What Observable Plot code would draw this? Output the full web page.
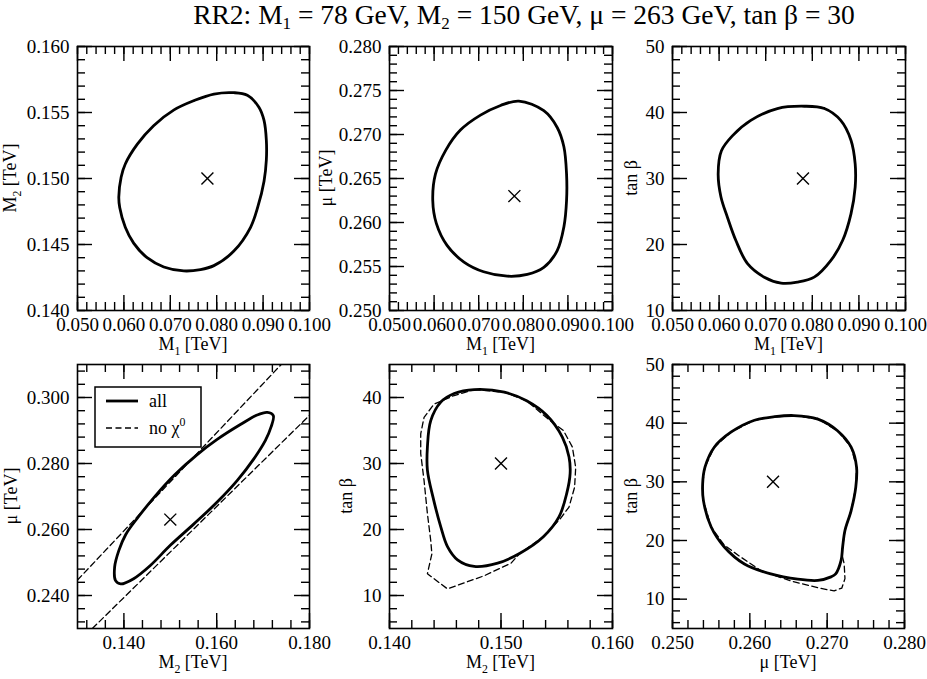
<!DOCTYPE html>
<html><head><meta charset="utf-8">
<script src="https://cdn.jsdelivr.net/npm/d3@7"></script>
<script src="https://cdn.jsdelivr.net/npm/@observablehq/plot@0.6"></script>
<style>
body{margin:0;background:#fff;}
#chart{position:relative;width:927px;height:679px;overflow:hidden;font-family:"Liberation Serif","Times New Roman",serif;background:#fff;}
#chart svg{position:absolute;}
#chart svg text{font-family:"Liberation Serif",serif !important;}
#title{position:absolute;left:124px;width:800px;top:0px;text-align:center;font-size:27.5px;line-height:30px;color:#000;white-space:nowrap;}
#title sub{font-size:17px;vertical-align:-5px;line-height:0;}
</style></head><body>
<div id="chart"><div id="title">RR2: M<sub>1</sub> = 78 GeV, M<sub>2</sub> = 150 GeV, μ = 263 GeV, tan β = 30</div></div>
<script>
// ---- best-fit point ----
const bestM1 = [0.078];
const bestM2 = [0.150];
const bestMu = [0.263];
const bestTb = [30];

// ---- panel 1: M1 vs M2 ----
const p1M1 = [0.0837,0.0866,0.0891,0.0902,0.0907,0.0907,0.0902,0.0889,0.0873,0.0837,0.0794,0.0765,0.0729,0.0686,0.0650,0.0621,0.0603,0.0591,0.0589,0.0594,0.0603,0.0629,0.0664,0.0708,0.0751,0.0794];
const p1M2 = [0.1565,0.1563,0.1554,0.1544,0.1529,0.1514,0.1498,0.1479,0.1463,0.1445,0.1434,0.1431,0.1430,0.1433,0.1440,0.1451,0.1463,0.1478,0.1486,0.1501,0.1511,0.1526,0.1540,0.1552,0.1559,0.1564];

// ---- panel 2: M1 vs mu ----
const p2M1 = [0.0790,0.0846,0.0876,0.0891,0.0897,0.0897,0.0891,0.0876,0.0846,0.0809,0.0764,0.0711,0.0667,0.0629,0.0605,0.0597,0.0603,0.0626,0.0659,0.0704,0.0749];
const p2Mu = [0.2738,0.2727,0.2708,0.2686,0.2655,0.2625,0.2595,0.2568,0.2549,0.2541,0.2539,0.2544,0.2555,0.2574,0.2599,0.2625,0.2655,0.2682,0.2705,0.2722,0.2733];

// ---- panel 3: M1 vs tan beta ----
const p3M1 = [0.0783,0.0826,0.0861,0.0883,0.0892,0.0892,0.0883,0.0865,0.0840,0.0804,0.0768,0.0733,0.0697,0.0661,0.0636,0.0618,0.0604,0.0598,0.0605,0.0629,0.0668,0.0725];
const p3Tb = [40.95,40.6,38.8,35.8,32.2,28.7,24.65,20.6,17.6,15.05,14.3,14.15,15.05,17.1,20.6,24.1,27.2,30.7,34.2,36.5,38.8,40.6];

// ---- panel 4: M2 vs mu ----
const p4M2 = [0.1709,0.1722,0.1717,0.1705,0.1680,0.1644,0.1601,0.1551,0.1500,0.1457,0.1421,0.1393,0.1382,0.1380,0.1389,0.1404,0.1431,0.1466,0.1509,0.1558,0.1601,0.1651,0.1687];
const p4Mu = [0.2955,0.2945,0.2910,0.2870,0.2814,0.2748,0.2683,0.2617,0.2552,0.2491,0.2451,0.2435,0.2445,0.2486,0.2536,0.2585,0.2638,0.2699,0.2765,0.2827,0.2873,0.2918,0.2947];
const p4UpperM2 = [0.130, 0.1739];
const p4UpperMu = [0.2447, 0.310];
const p4LowerM2 = [0.1332, 0.180];
const p4LowerMu = [0.230, 0.2946];

// ---- panel 5: M2 vs tan beta ----
const p5M2 = [0.1476,0.1503,0.1523,0.1541,0.1555,0.1561,0.1562,0.1559,0.1552,0.1538,0.1517,0.1497,0.1476,0.1461,0.1452,0.1446,0.1439,0.1434,0.1434,0.1437,0.1446,0.1458];
const p5Tb = [41.2,40.8,39.5,37.3,34.0,31.0,28.5,25.5,21.9,18.9,16.4,14.9,14.4,15.4,17.4,20.4,24.9,29.0,32.5,36.5,39.3,40.6];
const p5DashM2 = [0.1476,0.1503,0.1523,0.1544,0.1556,0.1564,0.1567,0.1566,0.1561,0.1553,0.1538,0.1517,0.1509,0.1485,0.1452,0.1434,0.1438,0.1437,0.1434,0.1431,0.1428,0.1428,0.1431,0.1440,0.1458];
const p5DashTb = [41.2,40.8,39.5,36.5,35.0,32.5,29.4,26.4,23.4,21.6,18.9,16.4,14.9,13.0,11.0,13.3,16.3,18.3,22.4,27.4,31.5,34.5,37.0,39.0,40.3];

// ---- panel 6: mu vs tan beta ----
const p6Mu = [0.2657,0.2688,0.2713,0.2731,0.2738,0.2737,0.2731,0.2723,0.2720,0.2718,0.2711,0.2705,0.2688,0.2662,0.2627,0.2593,0.2567,0.2550,0.2540,0.2539,0.2542,0.2554,0.2576,0.2606,0.2632];
const p6Tb = [41.3,40.7,38.75,35.9,32.5,29.1,25.1,21.7,18.9,16.6,14.3,13.8,13.2,13.4,14.3,16.0,18.9,22.3,26.8,29.7,32.5,35.9,38.5,40.5,41.1];
const p6DashMu = [0.2657,0.2688,0.2713,0.2731,0.2738,0.2737,0.2731,0.2723,0.2720,0.2719,0.2722,0.2723,0.2719,0.2709,0.2688,0.2653,0.2614,0.2588,0.2567,0.2550,0.2540,0.2539,0.2542,0.2554,0.2576,0.2606,0.2632];
const p6DashTb = [41.3,40.7,38.75,35.9,32.5,29.1,25.1,21.7,18.9,17.7,16.0,13.5,11.9,11.4,11.95,13.1,14.9,17.2,19.2,22.3,26.8,29.7,32.5,35.9,38.5,40.5,41.1];

// ---- tick labels ----
const ticksM1 = [0.050,0.060,0.070,0.080,0.090,0.100];
const ticksM2a = [0.140,0.145,0.150,0.155,0.160];
const ticksMuA = [0.250,0.255,0.260,0.265,0.270,0.275,0.280];
const ticksTbA = [10,20,30,40,50];
const ticksM2b = [0.140,0.160,0.180];
const ticksMuB = [0.240,0.260,0.280,0.300];
const ticksM2c = [0.140,0.150,0.160];
const ticksTbB = [10,20,30,40];
const ticksMuC = [0.250,0.260,0.270,0.280];

const f3 = d3.format(".3f"), fd = d3.format("d");
const minor = (lo, hi, step) => d3.range(Math.round((hi - lo) / step) + 1).map(i => +(lo + i * step).toFixed(6));

const FONT = "Liberation Serif";
const TICKFS = 19, LABFS = 18;
const chart = document.getElementById("chart");
const mL = 75, mR = 12, mT = 12, mB = 55;

function rich(sel, parts, fs) {
  let shift = 0;
  for (const p of parts) {
    const t = sel.append("tspan").text(p.t);
    let target = 0;
    if (p.sub) { t.attr("font-size", fs * 0.66); target = fs * 0.27; }
    if (p.sup) { t.attr("font-size", fs * 0.66); target = -fs * 0.45; }
    if (target !== shift) { t.attr("dy", target - shift); shift = target; }
  }
}

function panel(cfg) {
  const fw = cfg.w, fh = cfg.h;
  const tick = (vals, len, side) => {
    const o = {stroke: "black", strokeWidth: 1.4};
    if (side === "b") return Plot.ruleX(vals, {...o, insetTop: fh - len});
    if (side === "t") return Plot.ruleX(vals, {...o, insetBottom: fh - len});
    if (side === "l") return Plot.ruleY(vals, {...o, insetRight: fw - len});
    return Plot.ruleY(vals, {...o, insetLeft: fw - len});
  };
  const svg = Plot.plot({
    width: fw + mL + mR, height: fh + mT + mB,
    marginLeft: mL, marginRight: mR, marginTop: mT, marginBottom: mB,
    x: {domain: cfg.xd}, y: {domain: cfg.yd},
    style: `font-family: '${FONT}', serif; font-size: ${TICKFS}px; background: transparent; color: black; overflow: visible;`,
    marks: [
      ...cfg.marks,
      tick(cfg.xMinor, 8, "b"), tick(cfg.xMinor, 8, "t"),
      tick(cfg.xMajor, 15, "b"), tick(cfg.xMajor, 15, "t"),
      tick(cfg.yMinor, 8, "l"), tick(cfg.yMinor, 8, "r"),
      tick(cfg.yMajor, 15, "l"), tick(cfg.yMajor, 15, "r"),
      Plot.frame({stroke: "black", strokeWidth: 1.6}),
      Plot.axisX({ticks: cfg.xMajor, tickSize: 0, tickPadding: 7, tickFormat: cfg.xf, label: null, fontSize: TICKFS, fontFamily: FONT, fontVariant: "normal", fill: "black"}),
      Plot.axisY({ticks: cfg.yMajor, tickSize: 0, tickPadding: 8, tickFormat: cfg.yf, label: null, fontSize: TICKFS, fontFamily: FONT, fontVariant: "normal", fill: "black"})
    ]
  });
  svg.style.left = (cfg.left - mL) + "px";
  svg.style.top = (cfg.top - mT) + "px";
  const s = d3.select(svg);
  s.attr("font-family", FONT).attr("font-size", TICKFS);
  s.selectAll("g").filter(function () { return this.hasAttribute("font-family"); }).attr("font-family", FONT);
  s.selectAll("text").each(function () {
    this.style.fontFamily = "'Liberation Serif', serif";
    this.style.fontSize = TICKFS + "px";
    this.style.fontVariant = "normal";
  });
  const xl = s.append("text").attr("x", mL + fw / 2).attr("y", mT + fh + 40)
    .attr("text-anchor", "middle").attr("font-size", LABFS).attr("font-family", FONT).attr("fill", "black");
  rich(xl, cfg.xLabel, LABFS);
  const yl = s.append("text").attr("transform", `translate(${mL - cfg.yOff},${mT + fh / 2}) rotate(-90)`)
    .attr("text-anchor", "middle").attr("font-size", LABFS).attr("font-family", FONT).attr("fill", "black");
  rich(yl, cfg.yLabel, LABFS);
  if (cfg.after) cfg.after(s);
  chart.appendChild(svg);
}

const solid = {stroke: "black", strokeWidth: 2.8, strokeLinejoin: "round", curve: "catmull-rom-closed"};
const dashed = {stroke: "black", strokeWidth: 1.3, strokeDasharray: "6,3.5", curve: "linear-closed"};
const cross = (x, y) => Plot.dot(x, {x: x, y: y, symbol: "times", r: 5.5, stroke: "black", strokeWidth: 1.4});

const lblM1 = [{t: "M"}, {t: "1", sub: true}, {t: " [TeV]"}];
const lblM2 = [{t: "M"}, {t: "2", sub: true}, {t: " [TeV]"}];
const lblMu = [{t: "μ [TeV]"}];
const lblTb = [{t: "tan β"}];

panel({left: 77, top: 46, w: 232, h: 264, xd: [0.05, 0.10], yd: [0.140, 0.160],
  xMajor: ticksM1, xMinor: minor(0.05, 0.10, 0.002), yMajor: ticksM2a, yMinor: minor(0.140, 0.160, 0.001),
  xf: f3, yf: f3, xLabel: lblM1, yLabel: lblM2, yOff: 61,
  marks: [Plot.line(p1M1, {x: p1M1, y: p1M2, ...solid}), cross(bestM1, bestM2)]});

panel({left: 389, top: 46, w: 223, h: 264, xd: [0.05, 0.10], yd: [0.250, 0.280],
  xMajor: ticksM1, xMinor: minor(0.05, 0.10, 0.002), yMajor: ticksMuA, yMinor: minor(0.250, 0.280, 0.001),
  xf: f3, yf: f3, xLabel: lblM1, yLabel: lblMu, yOff: 57,
  marks: [Plot.line(p2M1, {x: p2M1, y: p2Mu, ...solid}), cross(bestM1, bestMu)]});

panel({left: 672, top: 46, w: 233, h: 264, xd: [0.05, 0.10], yd: [10, 50],
  xMajor: ticksM1, xMinor: minor(0.05, 0.10, 0.002), yMajor: ticksTbA, yMinor: minor(10, 50, 2),
  xf: f3, yf: fd, xLabel: lblM1, yLabel: lblTb, yOff: 35,
  marks: [Plot.line(p3M1, {x: p3M1, y: p3Tb, ...solid}), cross(bestM1, bestTb)]});

panel({left: 77, top: 364, w: 232, h: 264, xd: [0.130, 0.180], yd: [0.230, 0.310],
  xMajor: ticksM2b, xMinor: minor(0.132, 0.180, 0.004), yMajor: ticksMuB, yMinor: minor(0.232, 0.308, 0.004),
  xf: f3, yf: f3, xLabel: lblM2, yLabel: lblMu, yOff: 60,
  marks: [
    Plot.line(p4UpperM2, {x: p4UpperM2, y: p4UpperMu, stroke: "black", strokeWidth: 1.3, strokeDasharray: "6,3.5", clip: true}),
    Plot.line(p4LowerM2, {x: p4LowerM2, y: p4LowerMu, stroke: "black", strokeWidth: 1.3, strokeDasharray: "6,3.5", clip: true}),
    Plot.line(p4M2, {x: p4M2, y: p4Mu, ...solid}), cross(bestM2, bestMu)],
  after: (s) => {
    const g = s.append("g").attr("transform", `translate(${mL},${mT})`).attr("text-anchor", "start");
    g.append("rect").attr("x", 18).attr("y", 23).attr("width", 106).attr("height", 60)
      .attr("fill", "white").attr("stroke", "black").attr("stroke-width", 1.5);
    g.append("line").attr("x1", 29).attr("x2", 61).attr("y1", 37).attr("y2", 37).attr("stroke", "black").attr("stroke-width", 2.8);
    g.append("line").attr("x1", 29).attr("x2", 61).attr("y1", 64).attr("y2", 64).attr("stroke", "black").attr("stroke-width", 1.3).attr("stroke-dasharray", "6,3.5");
    g.append("text").attr("x", 72).attr("y", 43).attr("text-anchor", "start").attr("font-size", LABFS).attr("font-family", FONT).attr("fill", "black").text("all");
    const t2 = g.append("text").attr("x", 72).attr("y", 70).attr("text-anchor", "start").attr("font-size", LABFS).attr("font-family", FONT).attr("fill", "black");
    rich(t2, [{t: "no χ"}, {t: "0", sup: true}], LABFS);
  }});

panel({left: 389, top: 364, w: 223, h: 264, xd: [0.140, 0.160], yd: [5, 45],
  xMajor: ticksM2c, xMinor: minor(0.140, 0.160, 0.002), yMajor: ticksTbB, yMinor: minor(6, 44, 2),
  xf: f3, yf: fd, xLabel: lblM2, yLabel: lblTb, yOff: 37,
  marks: [Plot.line(p5DashM2, {x: p5DashM2, y: p5DashTb, ...dashed}),
    Plot.line(p5M2, {x: p5M2, y: p5Tb, ...solid}), cross(bestM2, bestTb)]});

panel({left: 672, top: 364, w: 232, h: 264, xd: [0.250, 0.280], yd: [5, 50],
  xMajor: ticksMuC, xMinor: minor(0.250, 0.280, 0.002), yMajor: ticksTbA, yMinor: minor(6, 50, 2),
  xf: f3, yf: fd, xLabel: lblMu, yLabel: lblTb, yOff: 35,
  marks: [Plot.line(p6DashMu, {x: p6DashMu, y: p6DashTb, ...dashed}),
    Plot.line(p6Mu, {x: p6Mu, y: p6Tb, ...solid}), cross(bestMu, bestTb)]});
</script>
</body></html>
